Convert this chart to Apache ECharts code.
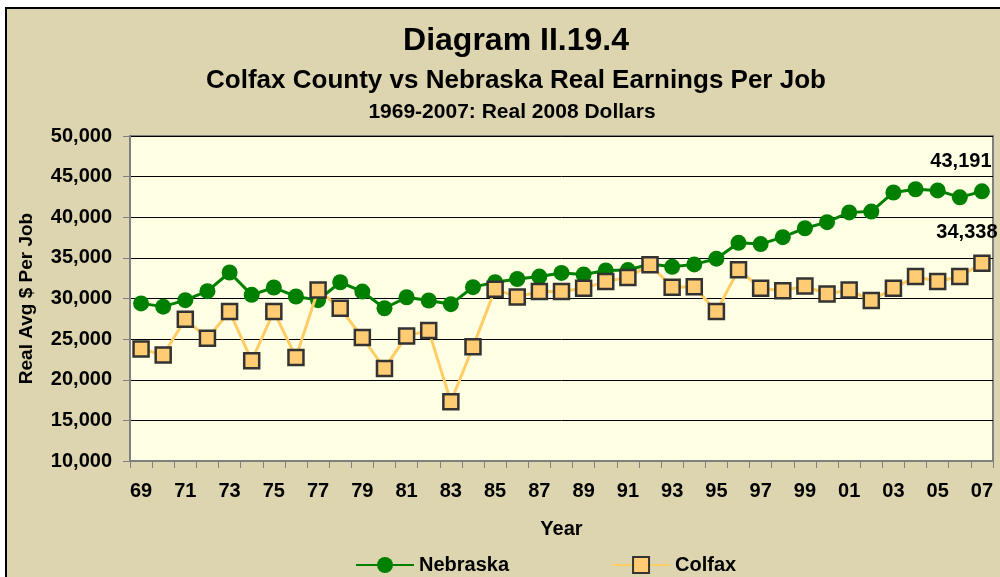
<!DOCTYPE html>
<html><head><meta charset="utf-8">
<script src="https://cdn.jsdelivr.net/npm/echarts@6/dist/echarts.min.js"></script>
<style>html,body{margin:0;padding:0;background:#fff;}#c{width:1000px;height:577px;}</style>
</head><body><div id="c"></div>
<script>
var years = ['69','70','71','72','73','74','75','76','77','78','79','80','81','82','83','84','85','86','87','88','89','90','91','92','93','94','95','96','97','98','99','00','01','02','03','04','05','06','07'];
var nebraska = [29400,29000,29800,30900,33200,30450,31350,30250,29800,32000,30850,28800,30150,29750,29300,31400,32000,32400,32700,33150,32950,33450,33500,34250,33900,34200,34900,36850,36700,37550,38650,39400,40600,40700,43050,43450,43300,42450,43191];
var colfax = [23800,23050,27450,25100,28400,22350,28400,22750,31050,28800,25200,21400,25400,26050,17300,24050,31150,30200,30850,30850,31250,32100,32600,34150,31400,31450,28400,33550,31250,30950,31550,30550,31050,29750,31250,32700,32100,32700,34338];
var yTicks = [10000,15000,20000,25000,30000,35000,40000,45000,50000];

var FONT = '"Liberation Sans", Arial, sans-serif';
function fmt(v){ return String(v).replace(/\B(?=(\d{3})+(?!\d))/g, ','); }
function withLastLabel(arr, offset){
  return arr.map(function(v,i){
    if(i === arr.length-1){
      return {value:v, label:{show:true, position:'top', distance:12, offset:offset,
        formatter:function(p){return fmt(p.value);}, color:'#000', fontWeight:'bold', fontSize:20, fontFamily:FONT}};
    }
    return v;
  });
}
var chart = echarts.init(document.getElementById('c'), null, {renderer:'canvas'});
chart.setOption({
  backgroundColor:'#ffffff',
  animation:false,
  graphic:[{type:'rect', z:-10, shape:{x:6,y:8,width:1010,height:600}, style:{fill:'#DDD5AF', stroke:'#000', lineWidth:2}}],
  title:[
    {text:'Diagram II.19.4', left:511, top:20, textAlign:'center', textStyle:{fontSize:32, fontWeight:'bold', color:'#000', fontFamily:FONT}},
    {text:'Colfax County vs Nebraska Real Earnings Per Job', left:511, top:63, textAlign:'center', textStyle:{fontSize:26, fontWeight:'bold', color:'#000', fontFamily:FONT}},
    {text:'1969-2007: Real 2008 Dollars', left:507, top:97, textAlign:'center', textStyle:{fontSize:21, fontWeight:'bold', color:'#000', fontFamily:FONT}}
  ],
  grid:{left:130, right:7, top:136, bottom:116, show:true, backgroundColor:'#FFFFE3', borderColor:'#808080', borderWidth:2, containLabel:false},
  legend:{left:350, top:550, itemWidth:58, itemHeight:20, itemGap:102,
    textStyle:{fontSize:20, fontWeight:'bold', color:'#000', fontFamily:FONT},
    data:['Nebraska','Colfax']},
  xAxis:{type:'category', data:years, boundaryGap:true,
    name:'Year', nameLocation:'middle', nameGap:58,
    nameTextStyle:{fontSize:20, fontWeight:'bold', color:'#000', fontFamily:FONT},
    axisLine:{lineStyle:{color:'#808080', width:2}},
    axisTick:{show:true, length:7, interval:0, lineStyle:{color:'#808080', width:1}},
    axisLabel:{interval:1, margin:20, fontSize:20, fontWeight:'bold', color:'#000', fontFamily:FONT},
    splitLine:{show:false}},
  yAxis:{type:'value', min:10000, max:50000, interval:5000,
    name:'Real Avg $ Per Job', nameLocation:'middle', nameGap:94,
    nameTextStyle:{fontSize:19, fontWeight:'bold', color:'#000', fontFamily:FONT},
    axisLine:{show:true, lineStyle:{color:'#808080', width:2}},
    axisTick:{show:true, length:7, lineStyle:{color:'#808080', width:1}},
    axisLabel:{margin:18, fontSize:20, fontWeight:'bold', color:'#000', fontFamily:FONT, formatter:function(v){return fmt(v);}},
    splitLine:{show:true, lineStyle:{color:'#000', width:1}}},
  series:[
    {name:'Nebraska', type:'line', data:withLastLabel(nebraska,[-21,0]), z:2, showAllSymbol:true,
      symbol:'circle', symbolSize:16, lineStyle:{color:'#008000', width:3},
      itemStyle:{color:'#008000', borderColor:'#008000', borderWidth:0}},
    {name:'Colfax', type:'line', data:withLastLabel(colfax,[-15,0]), z:3, showAllSymbol:true,
      symbol:'rect', symbolSize:15, lineStyle:{color:'#FFCC66', width:3},
      itemStyle:{color:'#FFCC73', borderColor:'#333333', borderWidth:2.5}}
  ]
});
</script></body></html>
